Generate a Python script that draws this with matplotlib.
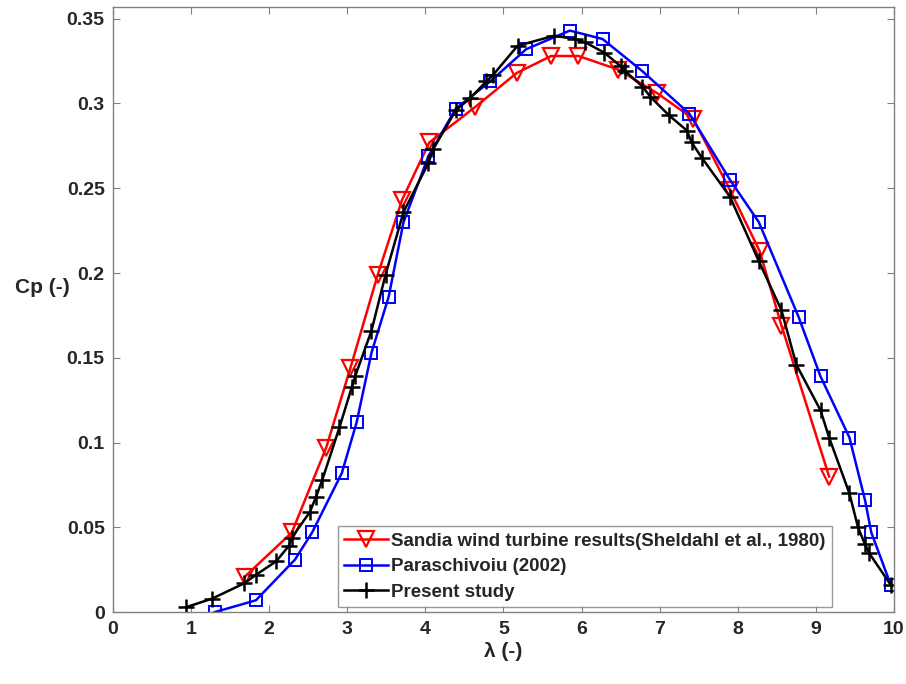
import matplotlib.pyplot as plt

# Sandia wind turbine results (Sheldahl et al., 1980)
sandia_x = [1.69, 2.29, 2.73, 3.04, 3.39, 3.70, 4.05, 4.64, 5.17, 5.61, 5.96, 6.47, 6.97, 7.43,
            7.90, 8.28, 8.56, 9.17]
sandia_y = [0.021, 0.047, 0.097, 0.144, 0.199, 0.243, 0.277, 0.298, 0.318, 0.328, 0.328, 0.320,
            0.306, 0.291, 0.249, 0.213, 0.169, 0.080]

# Paraschivoiu (2002)
para_x = [1.30, 1.83, 2.33, 2.55, 2.93, 3.12, 3.31, 3.53, 3.72, 4.04, 4.39, 4.83, 5.29, 5.85,
          6.27, 6.78, 7.38, 7.90, 8.27, 8.78, 9.06, 9.43, 9.63, 9.71, 9.96]
para_y = [0.0, 0.007, 0.031, 0.047, 0.082, 0.112, 0.153, 0.186, 0.230, 0.269, 0.297, 0.313,
          0.332, 0.343, 0.338, 0.319, 0.294, 0.255, 0.230, 0.174, 0.139, 0.103, 0.066, 0.047,
          0.016]

# Present study
study_x = [0.94, 1.27, 1.68, 1.83, 2.09, 2.25, 2.29, 2.52, 2.60, 2.68, 2.90, 3.06, 3.10, 3.31,
           3.49, 3.72, 4.04, 4.10, 4.39, 4.57, 4.78, 4.87, 5.18, 5.65, 5.91, 6.05, 6.29, 6.50,
           6.56, 6.78, 6.88, 7.12, 7.35, 7.41, 7.54, 7.90, 8.27, 8.56, 8.75, 9.06, 9.17, 9.43,
           9.54, 9.63, 9.68, 9.96]
study_y = [0.003, 0.008, 0.017, 0.022, 0.030, 0.039, 0.044, 0.059, 0.068, 0.078, 0.109, 0.133,
           0.139, 0.166, 0.199, 0.236, 0.265, 0.273, 0.296, 0.303, 0.313, 0.317, 0.334, 0.340,
           0.338, 0.336, 0.330, 0.322, 0.319, 0.310, 0.304, 0.293, 0.284, 0.277, 0.268, 0.245,
           0.207, 0.178, 0.146, 0.119, 0.103, 0.070, 0.050, 0.040, 0.035, 0.016]

xticks = list(range(0, 11))
yticks = [0, 0.05, 0.1, 0.15, 0.2, 0.25, 0.3, 0.35]
ytick_labels = ['0', '0.05', '0.1', '0.15', '0.2', '0.25', '0.3', '0.35']

plt.rcParams['font.family'] = ['Liberation Sans', 'DejaVu Sans']
plt.rcParams['font.weight'] = 'bold'

fig = plt.figure(figsize=(9.06, 6.84), dpi=100)
ax = fig.add_axes([0.1247, 0.105, 0.862, 0.885])

ax.plot(sandia_x, sandia_y, color='#ff0000', lw=1.8, marker='v', markersize=11,
        markerfacecolor='none', markeredgewidth=1.6,
        label='Sandia wind turbine results(Sheldahl et al., 1980)')
ax.plot(para_x, para_y, color='#0000ff', lw=1.8, marker='s', markersize=8,
        markerfacecolor='none', markeredgewidth=1.4, label='Paraschivoiu (2002)')
ax.plot(study_x, study_y, color='#000000', lw=1.8, marker='+', markersize=12,
        markeredgewidth=1.8, label='Present study')

ax.set_xlim(0, 10)
ax.set_ylim(0, 0.357)
ax.set_xticks(xticks)
ax.set_yticks(yticks)
ax.set_yticklabels(ytick_labels)
ax.tick_params(direction='in', top=True, right=True, length=5, width=0.8,
               colors='#808080', labelcolor='#262626', labelsize=14, pad=6)
for s in ax.spines.values():
    s.set_color('#808080')
    s.set_linewidth(1.0)

ax.set_xlabel('λ (-)', fontsize=15, fontweight='bold', color='#262626', labelpad=3)
ax.set_ylabel('Cp (-)', fontsize=15, fontweight='bold', color='#262626', rotation=0,
              labelpad=0)
ax.yaxis.set_label_coords(-0.09, 0.52)

leg = ax.legend(loc='lower left', bbox_to_anchor=(0.288, 0.008), fontsize=13.5,
                frameon=True, fancybox=False, edgecolor='#808080', handlelength=2.3,
                handletextpad=0.2, borderpad=0.35, labelspacing=0.45, borderaxespad=0)
leg.get_frame().set_linewidth(1.0)
for t in leg.get_texts():
    t.set_color('#262626')
    t.set_fontweight('bold')

fig.savefig('out.png', dpi=100)
